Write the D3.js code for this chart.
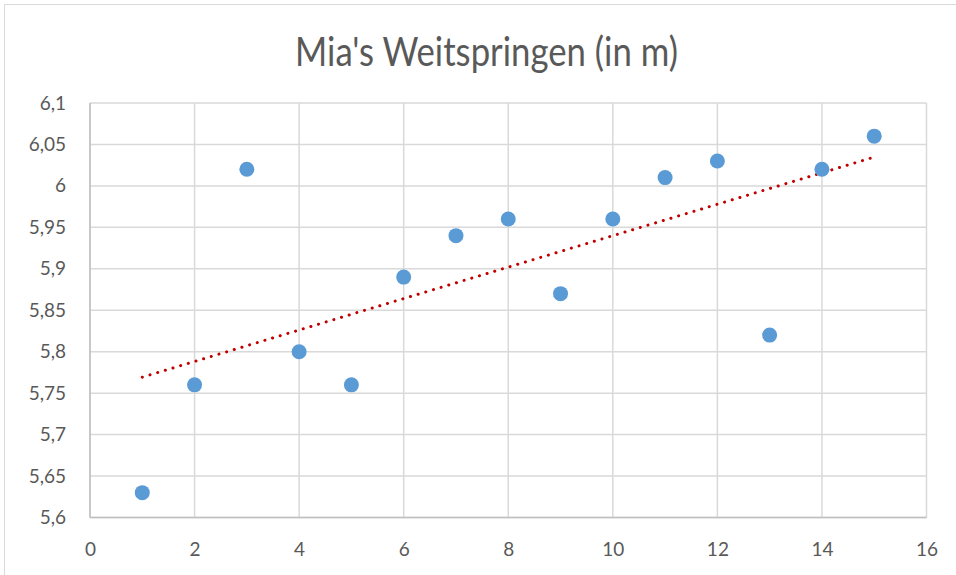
<!DOCTYPE html>
<html><head><meta charset="utf-8">
<script src="https://cdn.jsdelivr.net/npm/d3@7"></script>
<style>body{margin:0;background:#fff;} svg{display:block;}</style>
</head><body>
<script>
const title = "Mia's Weitspringen (in m)";
const xValues = [1,2,3,4,5,6,7,8,9,10,11,12,13,14,15];
const yValues = [5.63,5.76,6.02,5.80,5.76,5.89,5.94,5.96,5.87,5.96,6.01,6.03,5.82,6.02,6.06];
const xTicks = [0,2,4,6,8,10,12,14,16];
const yTicks = [5.6,5.65,5.7,5.75,5.8,5.85,5.9,5.95,6.0,6.05,6.1];

const W=956,H=575;
const svg=d3.select("body").append("svg").attr("width",W).attr("height",H);
const font="'Lato','Open Sans',sans-serif";
svg.append("rect").attr("x",4.5).attr("y",4.5).attr("width",W+10).attr("height",H+10)
  .attr("fill","#fff").attr("stroke","#d9d9d9").attr("stroke-width",1);

const m={l:90,r:926.5,t:103,b:517.5};
const x=d3.scaleLinear().domain([0,16]).range([m.l,m.r]);
const y=d3.scaleLinear().domain([5.6,6.1]).range([m.b,m.t]);
const fmt=v=>d3.format("~g")(+v.toFixed(2)).replace(".",",");

// grid
const g=svg.append("g");
g.selectAll(".hy").data(yTicks).join("line").attr("x1",m.l).attr("x2",m.r)
  .attr("y1",d=>y(d)).attr("y2",d=>y(d)).attr("stroke","#d9d9d9").attr("stroke-width",1.5);
g.selectAll(".vx").data(xTicks).join("line").attr("y1",m.t).attr("y2",m.b)
  .attr("x1",d=>x(d)).attr("x2",d=>x(d)).attr("stroke","#d9d9d9").attr("stroke-width",1.5);
// axes lines
svg.append("line").attr("x1",m.l).attr("x2",m.r).attr("y1",m.b).attr("y2",m.b).attr("stroke","#bfbfbf").attr("stroke-width",1.5);
svg.append("line").attr("x1",m.l).attr("x2",m.l).attr("y1",m.t).attr("y2",m.b).attr("stroke","#bfbfbf").attr("stroke-width",1.5);

// axis labels via d3 axes
const ax=svg.append("g").attr("transform",`translate(0,${m.b})`)
  .call(d3.axisBottom(x).tickValues(xTicks).tickFormat(d=>fmt(d)).tickSize(0).tickPadding(25));
const ay=svg.append("g").attr("transform",`translate(${m.l},0)`)
  .call(d3.axisLeft(y).tickValues(yTicks).tickFormat(d=>fmt(d)).tickSize(0).tickPadding(24));
[ax,ay].forEach(a=>{a.select(".domain").remove();
  a.selectAll("text").attr("font-family",font).attr("font-size",19).attr("fill","#595959");});

// trendline (least squares)
const mx=d3.mean(xValues), my=d3.mean(yValues);
let sxy=0,sxx=0; xValues.forEach((xv,i)=>{sxy+=(xv-mx)*(yValues[i]-my);sxx+=(xv-mx)**2;});
const slope=sxy/sxx, icpt=my-slope*mx;
const x0=d3.min(xValues),x1=d3.max(xValues);
svg.append("line").attr("x1",x(x0)).attr("y1",y(icpt+slope*x0)).attr("x2",x(x1)).attr("y2",y(icpt+slope*x1))
  .attr("stroke","#c00000").attr("stroke-width",3).attr("stroke-linecap","round").attr("stroke-dasharray","0.1 7.9");

// points
svg.selectAll(".pt").data(xValues).join("circle").attr("cx",d=>x(d)).attr("cy",(d,i)=>y(yValues[i]))
  .attr("r",7.5).attr("fill","#5b9bd5");

const t=svg.append("text").attr("text-anchor","middle").attr("font-family",font)
  .attr("font-size",41).attr("fill","#595959").text(title);
const tw=t.node().getComputedTextLength();
const sx=383/tw;
t.attr("transform",`translate(486.5,66) scale(${sx},1)`);
</script>
</body></html>
